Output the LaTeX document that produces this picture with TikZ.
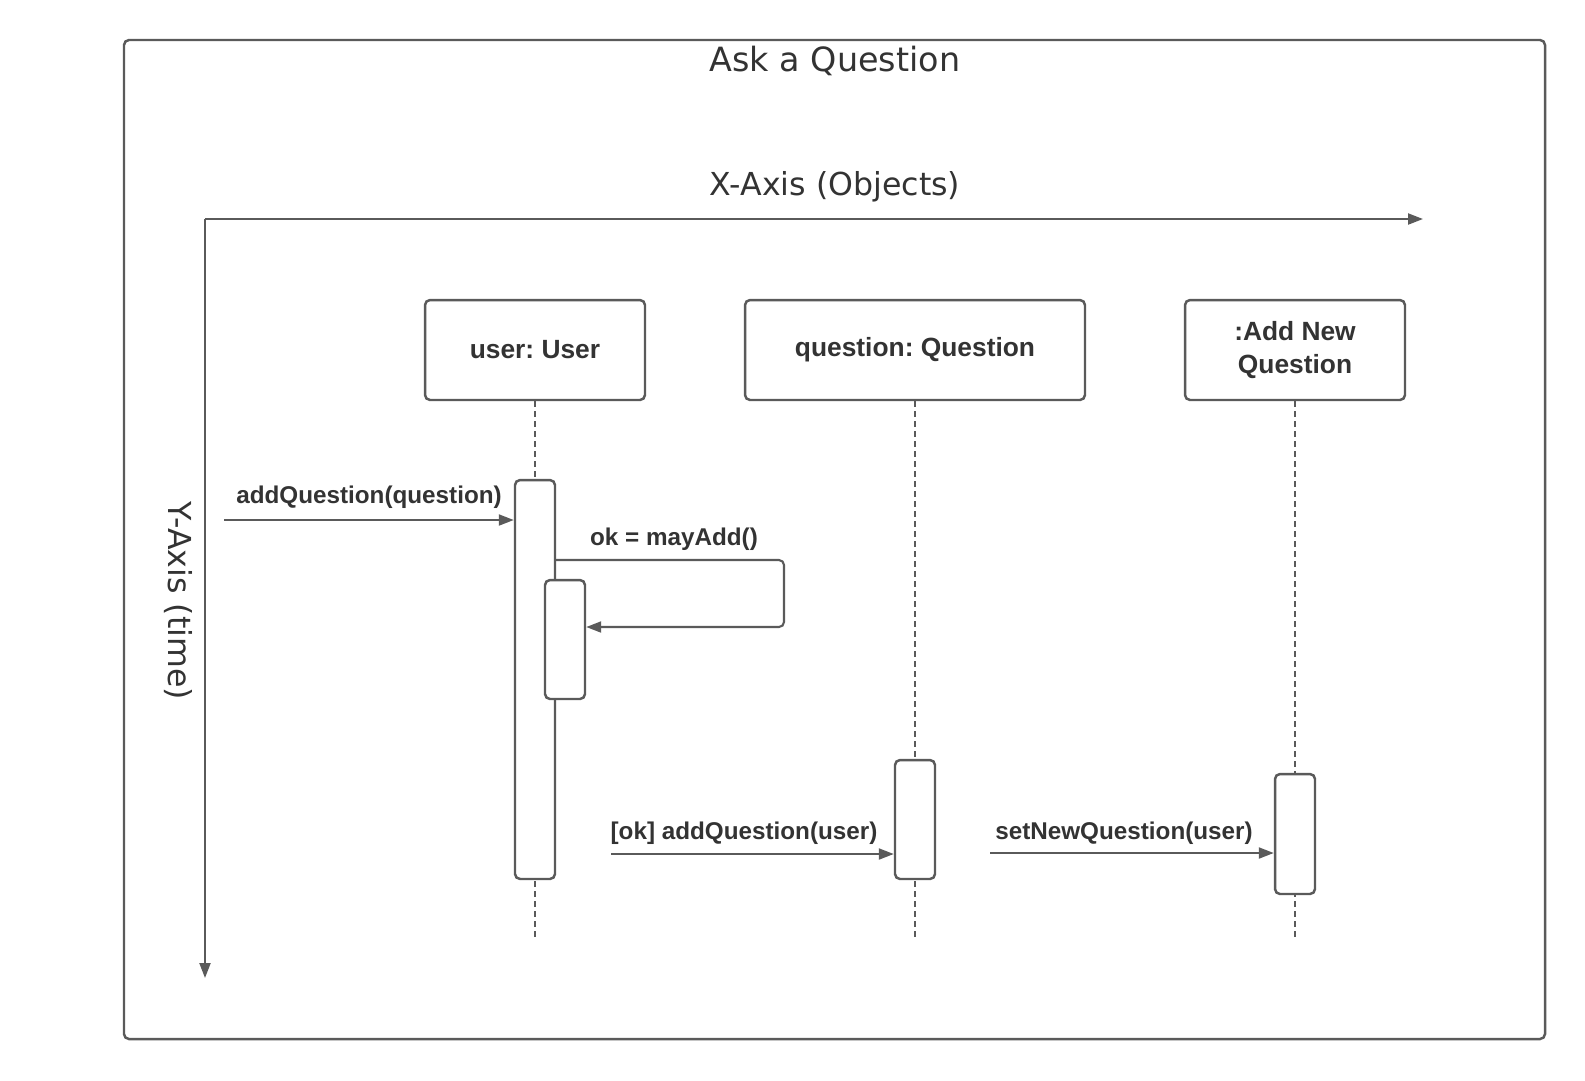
\documentclass[tikz,border=0pt]{standalone}
\usepackage{fontspec}
\setmainfont{Liberation Sans}
\newfontfamily\axisfont{DejaVu Sans}
\usetikzlibrary{arrows.meta}
\frenchspacing
\definecolor{linegray}{HTML}{5A5A5A}
\definecolor{textgray}{HTML}{333333}
\tikzset{
  obj/.style={draw=linegray, line width=1.4pt, rounded corners=0.1cm, fill=white,
    minimum width=4.4cm, minimum height=2cm, align=center, text=textgray,
    font=\fontsize{15}{19}\selectfont\bfseries},
  act/.style={draw=linegray, line width=1.4pt, rounded corners=0.1cm, fill=white,
    minimum width=0.8cm, inner sep=0pt},
  life/.style={draw=linegray, line width=0.8pt, dash pattern=on 0.12cm off 0.08cm},
  msg/.style={draw=linegray, line width=1.2pt, -{Triangle[length=0.3cm, width=0.22cm]}},
  lbl/.style={text=textgray, font=\fontsize{13.8}{16}\selectfont\bfseries},
  ttl/.style={text=textgray, font=\axisfont\fontsize{18}{22}\selectfont}
}
\begin{document}
\begin{tikzpicture}[x=0.02cm, y=-0.02cm]
		\useasboundingbox (0,0) rectangle (1585,1080);
		\draw[linegray, line width=1.4pt, rounded corners=0.1cm] (124,40) rectangle (1545,1039);
		\node[ttl, font=\axisfont\fontsize{19}{22}\selectfont] (title) at (835,61) {Ask a Question};
		% axes
		\coordinate (origin) at (205,219);
		\coordinate (xend) at (1423,219);
		\coordinate (yend) at (205,978);
		\draw[msg] (origin) -- (xend);
		\draw[msg] (origin) -- (yend);
		\node[ttl] (xlabel) at (835,187) {X-Axis (Objects)};
		\node[ttl, rotate=-90] (ylabel) at (178,601) {Y-Axis (time)};
		% objects
		\node[obj] (user) at (535,350) {user: User};
		\node[obj, minimum width=6.8cm] (question) at (915,350) {question: Question};
		\node[obj] (addnew) at (1295,350) {:Add New\\Question};
		% lifelines
		\coordinate (userEnd) at (535,940);
		\coordinate (questionEnd) at (915,940);
		\coordinate (addnewEnd) at (1295,940);
		\draw[life] (user) -- (userEnd);
		\draw[life] (question) -- (questionEnd);
		\draw[life] (addnew) -- (addnewEnd);
		% activations
		\node[act, minimum height=7.98cm] (userAct) at (535,679.5) {};
		\node[act, minimum height=2.38cm] (mayAct) at (565,639.5) {};
		\node[act, minimum height=2.38cm] (questionAct) at (915,819.5) {};
		\node[act, minimum height=2.4cm] (addnewAct) at (1295,834) {};
		% messages
		\coordinate (m1) at (224,520);
		\draw[msg] (m1) -- (m1 -| userAct.west);
		\node[lbl] (m1lbl) at (369,497) {addQuestion(question)};
		\coordinate (m2a) at (555,560);
		\coordinate (m2b) at (784,560);
		\coordinate (m2c) at (784,627);
		\draw[msg, rounded corners=0.1cm] (m2a) -- (m2b) -- (m2c) -- (m2c -| mayAct.east);
		\node[lbl] (m2lbl) at (674,539) {ok = mayAdd()};
		\coordinate (m3) at (611,854);
		\draw[msg] (m3) -- (m3 -| questionAct.west);
		\node[lbl] (m3lbl) at (744,833) {[ok] addQuestion(user)};
		\coordinate (m4) at (990,853);
		\draw[msg] (m4) -- (m4 -| addnewAct.west);
		\node[lbl] (m4lbl) at (1124,833) {setNewQuestion(user)};
	\end{tikzpicture}
\end{document}
